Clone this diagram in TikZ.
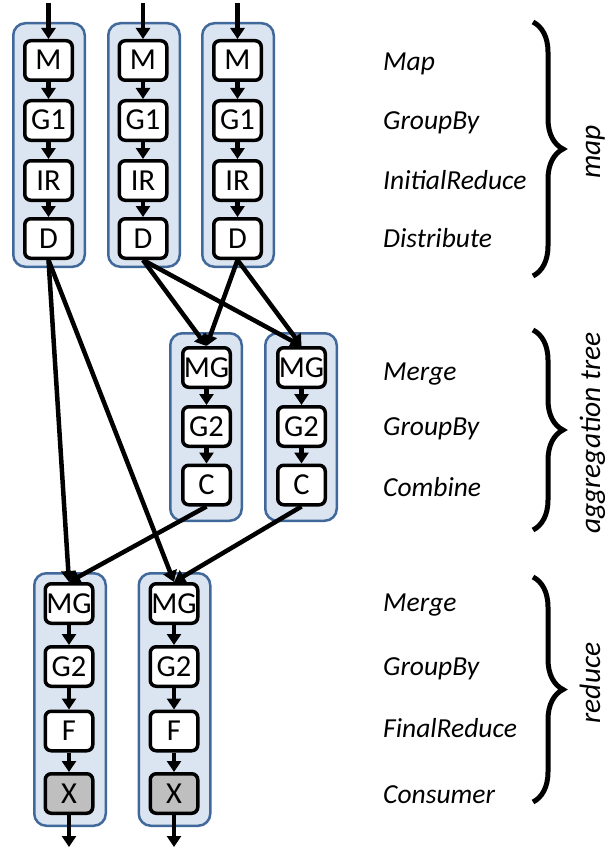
\documentclass[tikz,border=0pt]{standalone}
\usepackage{fontspec}
\setmainfont{Carlito}
\usetikzlibrary{arrows.meta,decorations.pathreplacing}
\definecolor{boxfill}{RGB}{219,228,241}
\definecolor{boxline}{RGB}{65,104,155}
\definecolor{xgray}{RGB}{191,191,191}
\begin{document}
\begin{tikzpicture}[x=1pt,y=-1pt,
  container/.style={draw=boxline, fill=boxfill, line width=2.5pt, rounded corners=12pt, minimum width=71.5pt, inner sep=0pt},
  op/.style={draw=black, fill=white, line width=3.5pt, rounded corners=6pt, minimum width=47.5pt, minimum height=39.5pt, inner sep=0pt, text height=19pt, text depth=0pt, font=\fontsize{30.5}{32}\selectfont},
  consumer/.style={op, fill=xgray},
  flow/.style={line width=4.5pt, -{Triangle[length=11pt,width=14pt]}},
  lbl/.style={anchor=base west, inner sep=0pt, font=\fontsize{27.5}{30}\selectfont\itshape},
  phase/.style={rotate=90, anchor=base, inner sep=0pt, font=\fontsize{29.5}{31}\selectfont\itshape},
  brc/.style={line width=5pt, decorate, decoration={brace, amplitude=30pt}}
]
\useasboundingbox (0,0) rectangle (609,848);

% containers
\node[container, minimum height=243.5pt] (mapA) at (49,145) {};
\node[container, minimum height=243.5pt] (mapB) at (144,145) {};
\node[container, minimum height=243.5pt] (mapC) at (238,145) {};
\node[container, minimum height=187.5pt] (aggA) at (206,427) {};
\node[container, minimum height=187.5pt] (aggB) at (301,427) {};
\node[container, minimum height=252.5pt] (redA) at (70,699.5) {};
\node[container, minimum height=252.5pt] (redB) at (174.5,699.5) {};

% map stage
\foreach \c/\x in {a/48.5,b/143,c/237.5}{
  \node[op] (M\c) at (\x,60.5) {M};
  \node[op] (G\c) at (\x,120.5) {G1};
  \node[op] (I\c) at (\x,180.5) {IR};
  \node[op] (D\c) at (\x,238.5) {D};
  \coordinate (in\c) at (\x,3);
  \draw[flow] (in\c) -- (M\c.north);
  \draw[flow] (M\c.south) -- (G\c.north);
  \draw[flow] (G\c.south) -- (I\c.north);
  \draw[flow] (I\c.south) -- (D\c.north);
}

% aggregation tree stage
\foreach \c/\x in {a/206.5,b/301.5}{
  \node[op] (MGa\c) at (\x,367.5) {MG};
  \node[op] (GGa\c) at (\x,426.5) {G2};
  \node[op] (C\c) at (\x,485) {C};
  \draw[flow] (MGa\c.south) -- (GGa\c.north);
  \draw[flow] (GGa\c.south) -- (C\c.north);
}

% reduce stage
\foreach \c/\x in {a/69,b/174}{
  \node[op] (MGr\c) at (\x,603.5) {MG};
  \node[op] (GGr\c) at (\x,666.5) {G2};
  \node[op] (F\c) at (\x,731) {F};
  \node[consumer] (X\c) at (\x,793.5) {X};
  \coordinate (out\c) at (\x,847);
  \draw[flow] (MGr\c.south) -- (GGr\c.north);
  \draw[flow] (GGr\c.south) -- (F\c.north);
  \draw[flow] (F\c.south) -- (X\c.north);
  \draw[flow] (X\c.south) -- (out\c);
}

% cross connectors
\draw[flow] (Da.south) -- (MGra.north);
\draw[flow] (Da.south) -- (MGrb.north);
\draw[flow] (Db.south) -- (MGaa.north);
\draw[flow] (Db.south) -- (MGab.north);
\draw[flow] (Dc.south) -- (MGaa.north);
\draw[flow] (Dc.south) -- (MGab.north);
\draw[flow] (Ca.south) -- (MGra.north);
\draw[flow] (Cb.south) -- (MGrb.north);

% labels
\node[lbl] (lMap) at (383,71) {Map};
\node[lbl] (lGB1) at (383,130) {GroupBy};
\node[lbl] (lIR) at (383,189) {InitialReduce};
\node[lbl] (lDis) at (383,247) {Distribute};
\node[lbl] (lMg1) at (383,380) {Merge};
\node[lbl] (lGB2) at (383,435) {GroupBy};
\node[lbl] (lCmb) at (383,496) {Combine};
\node[lbl] (lMg2) at (383,611) {Merge};
\node[lbl] (lGB3) at (383,675) {GroupBy};
\node[lbl] (lFR) at (383,737) {FinalReduce};
\node[lbl] (lCon) at (383,803) {Consumer};

% braces
\coordinate (b1s) at (533,22);
\coordinate (b1e) at (533,276);
\coordinate (b2s) at (533,330);
\coordinate (b2e) at (533,530);
\coordinate (b3s) at (533,577);
\coordinate (b3e) at (533,802);
\draw[brc] (b1s) -- (b1e);
\draw[brc] (b2s) -- (b2e);
\draw[brc] (b3s) -- (b3e);

\node[phase] (pMap) at (600,152) {map};
\node[phase] (pAgg) at (600,433) {aggregation tree};
\node[phase] (pRed) at (600,683) {reduce};
\end{tikzpicture}
\end{document}
